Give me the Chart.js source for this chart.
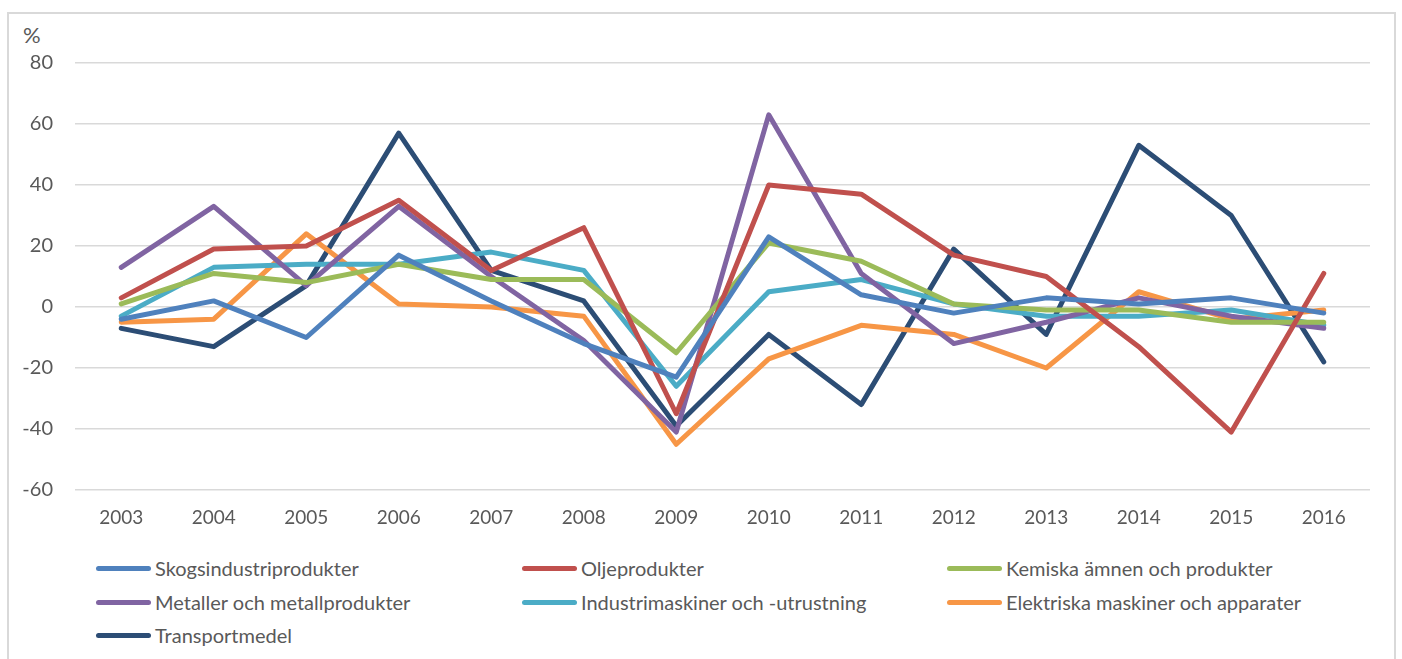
<!DOCTYPE html>
<html lang="sv">
<head>
<meta charset="utf-8">
<script src="https://cdn.jsdelivr.net/npm/chart.js@4"></script>
<style>
  body { margin: 0; background: #fff; font-family: Lato, "Open Sans", sans-serif; }
  #wrap { position: relative; width: 1402px; height: 659px; overflow: hidden; }
  #frame { position: absolute; left: 7px; top: 12px; width: 1389px; height: 700px; border: 2px solid #d9d9d9; box-sizing: border-box; }
  #chartBox { position: absolute; left: 0; top: 0; width: 1402px; height: 540px; }
  #unit { position: absolute; left: 23px; top: 21px; font-size: 22px; color: #595959; }
  .leg { position: absolute; display: flex; align-items: center; height: 24px; font-size: 20px; color: #595959; white-space: nowrap; }
  .leg span.sw { display: inline-block; width: 55px; height: 5px; border-radius: 3px; margin-right: 4px; }
</style>
</head>
<body>
<div id="wrap">
  <div id="frame"></div>
  <div id="unit">%</div>
  <div id="chartBox"><canvas id="lineChart" width="1402" height="540"></canvas></div>
  <div id="legend"></div>
</div>
<script>
// Kategorier (år)
const years = ["2003", "2004", "2005", "2006", "2007", "2008", "2009", "2010", "2011", "2012", "2013", "2014", "2015", "2016"];

// Serievärden, procent
const skogsindustri = [-4, 2, -10, 17, 2, -12, -23, 23, 4, -2, 3, 1, 3, -2];
const olje = [3, 19, 20, 35, 12, 26, -35, 40, 37, 17, 10, -13, -41, 11];
const kemiska = [1, 11, 8, 14, 9, 9, -15, 21, 15, 1, -1, -1, -5, -5];
const metaller = [13, 33, 7, 33, 10, -11, -41, 63, 11, -12, -5, 3, -3, -7];
const industrimaskiner = [-3, 13, 14, 14, 18, 12, -26, 5, 9, 1, -3, -3, -1, -6];
const elektriska = [-5, -4, 24, 1, 0, -3, -45, -17, -6, -9, -20, 5, -4, -1];
const transport = [-7, -13, 7, 57, 12, 2, -39, -9, -32, 19, -9, 53, 30, -18];

// Serienamn och färger
const seriesNames = [
  "Skogsindustriprodukter",
  "Oljeprodukter",
  "Kemiska ämnen och produkter",
  "Metaller och metallprodukter",
  "Industrimaskiner och -utrustning",
  "Elektriska maskiner och apparater",
  "Transportmedel",
];
const seriesColors = ["#4f81bd", "#c0504d", "#9bbb59", "#8064a2", "#4bacc6", "#f79646", "#2c4d75"];
const seriesData = [skogsindustri, olje, kemiska, metaller, industrimaskiner, elektriska, transport];

// Y-axelns tick-värden
const yTicks = [80, 60, 40, 20, 0, -20, -40, -60];

document.addEventListener("DOMContentLoaded", function () {
  drawChart();
  drawLegend();
});

function drawChart() {
  const ctx = document.getElementById("lineChart").getContext("2d");
  const datasets = seriesNames.map((name, i) => ({
    label: name,
    data: seriesData[i],
    borderColor: seriesColors[i],
    backgroundColor: seriesColors[i],
    borderWidth: 5,
    pointRadius: 0,
    tension: 0,
    borderJoinStyle: "round",
    borderCapStyle: "round",
  }));

  new Chart(ctx, {
    type: "line",
    data: { labels: years, datasets: datasets },
    options: {
      responsive: false,
      animation: false,
      layout: { padding: { top: 63, right: 32, left: 0, bottom: 0 } },
      plugins: { legend: { display: false }, tooltip: { enabled: false } },
      scales: {
        x: {
          offset: true,
          grid: { display: false, drawTicks: false },
          border: { display: false },
          ticks: { color: "#595959", font: { family: "Lato", size: 19 }, padding: 16, maxRotation: 0 },
          afterFit: (scale) => { scale.height = 50; },
        },
        y: {
          min: -60,
          max: 80,
          afterBuildTicks: (scale) => { scale.ticks = yTicks.map((v) => ({ value: v })); },
          grid: { color: "#d9d9d9", lineWidth: 1.5, drawTicks: false },
          border: { display: false },
          ticks: { color: "#595959", font: { family: "Lato", size: 20 }, padding: 22 },
          afterFit: (scale) => { scale.width = 75; },
        },
      },
    },
  });
}

// Egen legend i tre kolumner
function drawLegend() {
  const legend = document.getElementById("legend");
  const colX = [96, 522, 947];
  const rowY = [568, 602, 635];
  seriesNames.forEach((name, i) => {
    const item = document.createElement("div");
    item.className = "leg";
    item.style.left = colX[i % 3] + "px";
    item.style.top = rowY[Math.floor(i / 3)] - 12 + "px";
    item.innerHTML = `<span class="sw" style="background:${seriesColors[i]}"></span>${name}`;
    legend.appendChild(item);
  });
}
</script>
</body>
</html>
